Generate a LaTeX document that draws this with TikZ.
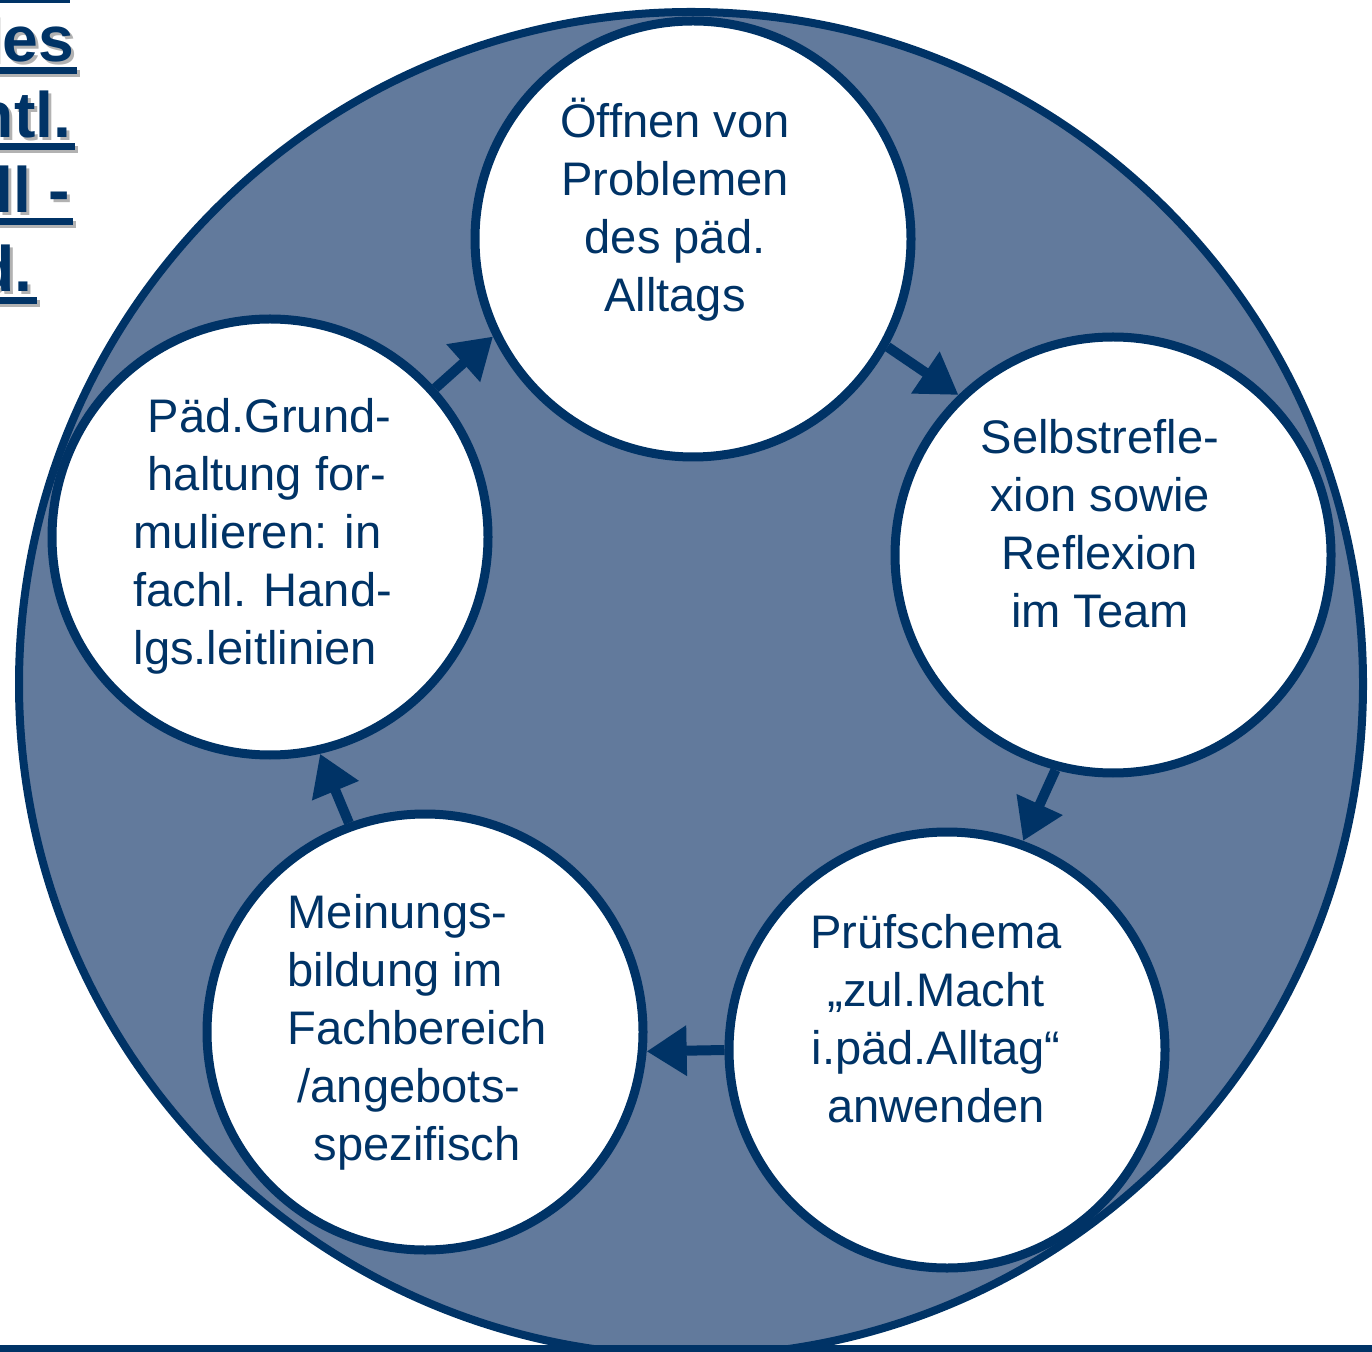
\documentclass[tikz,border=0pt]{standalone}
\usepackage{fontspec}
\setmainfont{Liberation Sans}
\usetikzlibrary{arrows.meta}
\definecolor{navy}{RGB}{0,51,102}
\definecolor{dotfill}{RGB}{98,122,156}

\begin{document}
\begin{tikzpicture}[
    stage/.style={circle, draw=navy, line width=0.09cm, fill=white, minimum size=4.36cm, inner sep=0pt},
    stagetext/.style={text=navy, font=\fontsize{13.4}{16.5}\selectfont, inner sep=0pt},
    flow/.style={navy, line width=0.10cm, -{Triangle[length=0.40cm,width=0.48cm]}},
    head/.style={font=\fontsize{18.3}{22}\selectfont\bfseries, inner sep=0pt, anchor=base east},
    uline/.style={line width=0.07cm}]
  \useasboundingbox (0,0) rectangle (13.72,-13.52);

  % header fragments at the upper left
  \fill[navy] (0,0) rectangle (0.70,-0.035);
  \foreach \txt/\tx/\by/\ux in {les/0.75/0.62/0.77, ntl./0.72/1.38/0.75, ll -/0.71/2.13/0.73, d./0.33/2.92/0.37}{
    \node[head, text=black!30] at (\tx+0.03,-\by-0.03) {\txt};
    \draw[uline, black!30] (-0.1,-\by-0.115) -- (\ux+0.03,-\by-0.115);
    \node[head, text=navy] (hd) at (\tx,-\by) {\txt};
    \draw[uline, navy] (-0.1,-\by-0.085) -- (\ux,-\by-0.085);
  }

  % large ring
  \node[circle, draw=navy, line width=0.08cm, fill=dotfill, minimum size=13.44cm] (ring) at (6.91,-6.84) {};

  % the five stages
  \node[stage] (top) at (6.93,-2.39) {};
  \node[stage] (rgt) at (11.13,-5.55) {};
  \node[stage] (brt) at (9.47,-10.50) {};
  \node[stage] (blf) at (4.25,-10.32) {};
  \node[stage] (lft) at (2.70,-5.37) {};

  \node[stagetext, align=center] (toptext) at (6.75,-2.10) {Öffnen von\\Problemen\\des päd.\\Alltags};
  \node[stagetext, align=center] (rgttext) at (11.00,-5.24) {Selbstrefle-\\xion sowie\\Reflexion\\im Team};
  \node[stagetext, align=center] (brttext) at (9.36,-10.19) {Prüfschema\\„zul.Macht\\i.päd.Alltag“\\anwenden};
  \node[stagetext, align=left, anchor=west] (blftext) at (2.87,-10.32) {Meinungs-\\bildung im\\Fachbereich\\\hspace{0.10cm}/angebots-\\\hspace{0.26cm}spezifisch};
  \node[stagetext, align=left, anchor=west] (lfttext) at (1.33,-5.36) {\hspace{0.14cm}Päd.Grund-\\\hspace{0.14cm}haltung for-\\mulieren: in\\fachl. Hand-\\lgs.leitlinien};

  % cycle arrows
  \draw[flow] (lft.42) -- (top.206);
  \draw[flow] (top.-29) -- (rgt.134);
  \draw[flow] (rgt.255) -- (brt.70);
  \draw[flow] (brt.180) -- (blf.-5);
  \draw[flow] (blf.110) -- (lft.-77);

  % bottom bar
  \fill[navy] (0,-13.45) rectangle (13.72,-13.52);
\end{tikzpicture}
\end{document}
